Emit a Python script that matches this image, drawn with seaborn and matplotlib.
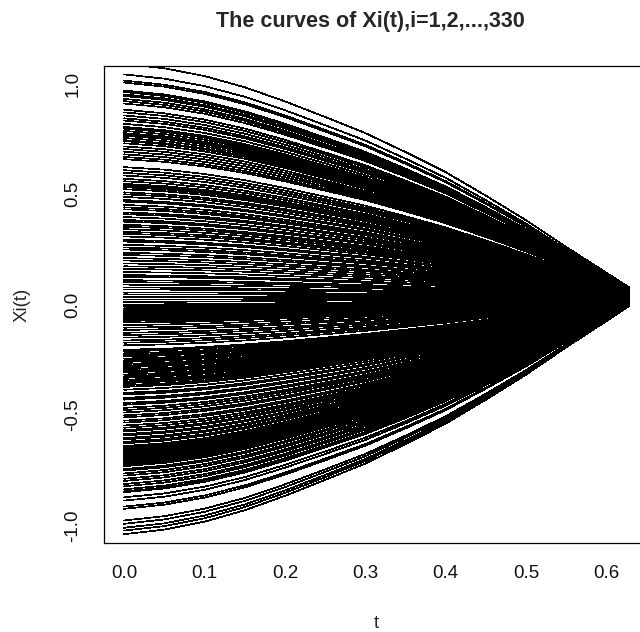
import numpy as np
import pandas as pd
import matplotlib
matplotlib.use("Agg")
import matplotlib.pyplot as plt
import seaborn as sns

# ---- data ----
# common time grid and the (normalised) shape profile every curve follows
t_grid = [0.0, 0.05, 0.10, 0.15, 0.20, 0.25, 0.30, 0.35, 0.40, 0.45, 0.50, 0.55, 0.60, 0.628]
shape = [1.0, 0.98, 0.945, 0.895, 0.832, 0.762, 0.69, 0.605, 0.515, 0.41, 0.30, 0.18, 0.065, 0.0]

# starting values Xi(0) (in thousandths), 330 curves, read band by band
# (many curves start at practically the same value and overlap)
start_milli = [
    1090, 1042, 1014, 1005,
    969, 962, 951, 944, 931, 921, 910,
    882, 882, 870, 870, 856, 843,
    833, 833, 818, 804,
    796, 796, 786, 786, 776, 776, 770, 764, 764, 754, 754, 744, 740, 730,
    716, 716, 704, 704, 692, 680, 680, 668, 658, 658,
    622, 622, 608, 596, 596, 584,
    569, 558, 558, 546, 539,
    531, 531, 522, 522, 522, 508, 508, 499, 499, 487, 487, 473, 473, 473,
    466, 466, 451, 451, 440, 440, 431, 431, 431, 417, 417, 409, 409,
    396, 396, 383, 383, 383, 375, 375, 361, 361, 352, 352, 341, 341, 341,
    329, 329, 320, 320,
    308, 308, 293, 293, 285, 285, 270, 270, 258, 258, 249, 249, 234, 234,
    224, 224, 210, 210, 199, 199, 186, 186, 173, 173, 161, 161,
    147, 147, 133, 133, 125, 125, 110, 110, 101, 101, 90, 90, 77, 77,
    68, 68, 55, 55, 46, 46, 33, 33, 22, 22, 12, 12, 0, 0,
    -6, -10, -17, -21, -28, -33, -38, -45, -49, -56, -61, -68, -74, -82,
    -93, -93, -105, -105, -115, -115, -128, -128, -138, -138, -150,
    -163, -163, -173, -173, -185,
    -205, -205, -212, -212, -221, -221, -229, -229, -236, -236, -245, -245,
    -253, -253, -260, -260, -269, -269, -277, -277, -284, -284, -293, -293,
    -301, -301, -308, -308, -317, -317, -325, -325, -332, -332, -341, -341,
    -349, -349, -356, -356, -365, -365, -373,
    -386, -386, -400, -400, -408, -408, -423, -423, -431, -431, -446, -446,
    -454, -454, -468, -468, -478, -478, -489, -489, -502, -502, -511, -511,
    -526, -526, -535, -535, -548, -548,
    -558, -558, -569, -569, -575, -575, -587, -587, -593, -593, -605, -605,
    -611, -611, -622, -622, -629, -629, -641, -641, -647, -647,
    -654, -658, -663, -669, -673, -678, -684, -688, -693, -699, -703, -708,
    -713, -717, -722, -726, -729, -732,
    -745, -752, -752, -752, -765, -765, -775, -775, -789, -789, -789,
    -799, -799, -813, -813, -823, -823, -823, -837, -837, -846, -846,
    -850, -873, -888, -915, -925, -978, -993, -1011, -1024, -1040,
]
# value at the right end t=0.628 for the highest and the lowest curve
end_top = 0.078
end_bottom = -0.008

title = "The curves of Xi(t),i=1,2,...,330"
xticks = [0.0, 0.1, 0.2, 0.3, 0.4, 0.5, 0.6]
xtick_labels = ["0.0", "0.1", "0.2", "0.3", "0.4", "0.5", "0.6"]
yticks = [-1.0, -0.5, 0.0, 0.5, 1.0]
ytick_labels = ["-1.0", "-0.5", "0.0", "0.5", "1.0"]

# ---- build long table ----
starts = np.array(start_milli) / 1000.0
s_lo, s_hi = starts.min(), starts.max()
ends = end_bottom + (starts - s_lo) / (s_hi - s_lo) * (end_top - end_bottom)
rows = []
for i, (s0, e0) in enumerate(zip(starts, ends)):
    for tt, sh in zip(t_grid, shape):
        rows.append((i + 1, tt, e0 + (s0 - e0) * sh))
df = pd.DataFrame(rows, columns=["curve", "t", "x"])

# ---- plot ----
sns.set_style("white")
plt.rcParams["font.family"] = ["Liberation Sans", "DejaVu Sans"]

fig = plt.figure(figsize=(6.4, 6.32), dpi=100)
W, H = 640, 632
left, right, top, bottom = 104, 649, 66, 543
ax = fig.add_axes([left / W, 1 - bottom / H, (right - left) / W, (bottom - top) / H])

sns.lineplot(data=df, x="t", y="x", units="curve", estimator=None,
             color="black", linewidth=0.5, legend=False, sort=False, ax=ax)
for ln in ax.lines:
    ln.set_antialiased(False)

ax.set_xlim(-0.0251, 0.653)
ax.set_ylim(-1.08, 1.08)
ax.set_xticks(xticks)
ax.set_xticklabels(xtick_labels)
ax.set_yticks(yticks)
ax.set_yticklabels(ytick_labels, rotation=90, va="center")

for sp in ax.spines.values():
    sp.set_visible(True)
    sp.set_color("black")
    sp.set_linewidth(0.9)

ax.tick_params(axis="both", direction="out", length=7.9, width=0.8,
               color="#333333", labelsize=13.5, pad=8.3, labelcolor="#111111")

ax.set_xlabel("t", fontsize=13.5, va="center")
ax.xaxis.set_label_coords(0.5, (bottom - 623) / (bottom - top))
ax.set_ylabel("Xi(t)", fontsize=13.5, va="center")
ax.yaxis.set_label_coords((22.5 - left) / (right - left), 0.5)

ax.text((370 - left) / (right - left), 1 + (top - 22) / (bottom - top), title,
        transform=ax.transAxes, ha="center", va="center",
        fontsize=15.5, fontweight="bold")

fig.savefig("out.png", dpi=100)
